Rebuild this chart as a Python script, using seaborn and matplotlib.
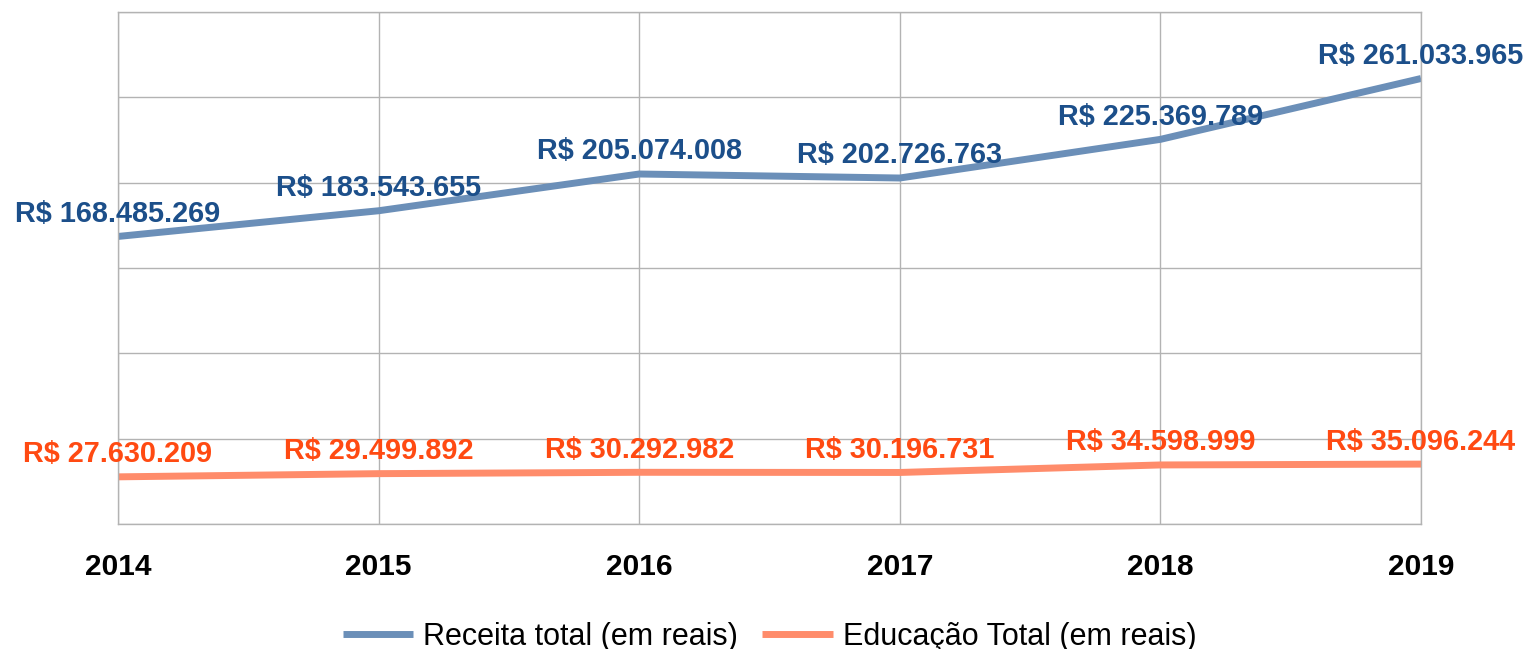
import matplotlib

matplotlib.use("Agg")

import matplotlib.pyplot as plt  # noqa: E402
import pandas as pd  # noqa: E402
import seaborn as sns  # noqa: E402

anos = ["2014", "2015", "2016", "2017", "2018", "2019"]
receita = [168485269, 183543655, 205074008, 202726763, 225369789, 261033965]
educacao = [27630209, 29499892, 30292982, 30196731, 34598999, 35096244]
series = ["Receita total (em reais)", "Educação Total (em reais)"]

cores_linha = ["#6b8fb8", "#ff8c6b"]
cores_rotulo = ["#1c4f8a", "#ff4a12"]


def brl(v):
    return "R$ " + f"{v:,}".replace(",", ".")


df = pd.DataFrame(
    {
        "ano": anos * 2,
        "valor": receita + educacao,
        "serie": [series[0]] * len(anos) + [series[1]] * len(anos),
    }
)

sns.set_style("white")
plt.rcParams["font.family"] = ["Liberation Sans", "DejaVu Sans"]

fig = plt.figure(figsize=(15.26, 6.49), dpi=100)
ax = fig.add_axes([118 / 1526, 125 / 649, (1421 - 118) / 1526, 512 / 649])

sns.lineplot(
    data=df,
    x="ano",
    y="valor",
    hue="serie",
    palette=cores_linha,
    linewidth=5,
    sort=False,
    solid_capstyle="butt",
    ax=ax,
)

ax.set_xlim(0, len(anos) - 1)
ax.set_ylim(0, 300_000_000)
ax.set_yticks(range(0, 300_000_001, 50_000_000))
ax.set_yticklabels([])
ax.tick_params(axis="y", length=0)
ax.grid(True, color="#b3b3b3", linewidth=1)
ax.set_axisbelow(True)
for lado in ["left", "right", "top", "bottom"]:
    ax.spines[lado].set_color("#b3b3b3")
    ax.spines[lado].set_linewidth(1)
ax.tick_params(axis="x", length=10, color="#b3b3b3", pad=11,
               labelsize=21.5, labelcolor="black")
for t in ax.get_xticklabels():
    t.set_fontweight("bold")
ax.set_xlabel("")
ax.set_ylabel("")

for valores, cor in zip([receita, educacao], cores_rotulo):
    for i, v in enumerate(valores):
        ax.annotate(
            brl(v),
            (i, v),
            xytext=(0, 10.5),
            textcoords="offset points",
            ha="center",
            va="baseline",
            color=cor,
            fontsize=20.8,
            fontweight="bold",
            annotation_clip=False,
        )

leg = ax.legend(
    loc="center",
    bbox_to_anchor=(0.5, (637 - 524) / -512),
    ncol=2,
    frameon=False,
    fontsize=22,
    handlelength=2.3,
    handletextpad=0.33,
    columnspacing=0.8,
)
for h in leg.get_lines():
    h.set_linewidth(5)
    h.set_solid_capstyle("butt")
for t in leg.get_texts():
    t.set_color("black")

fig.savefig("out.png", dpi=100)
plt.close(fig)
